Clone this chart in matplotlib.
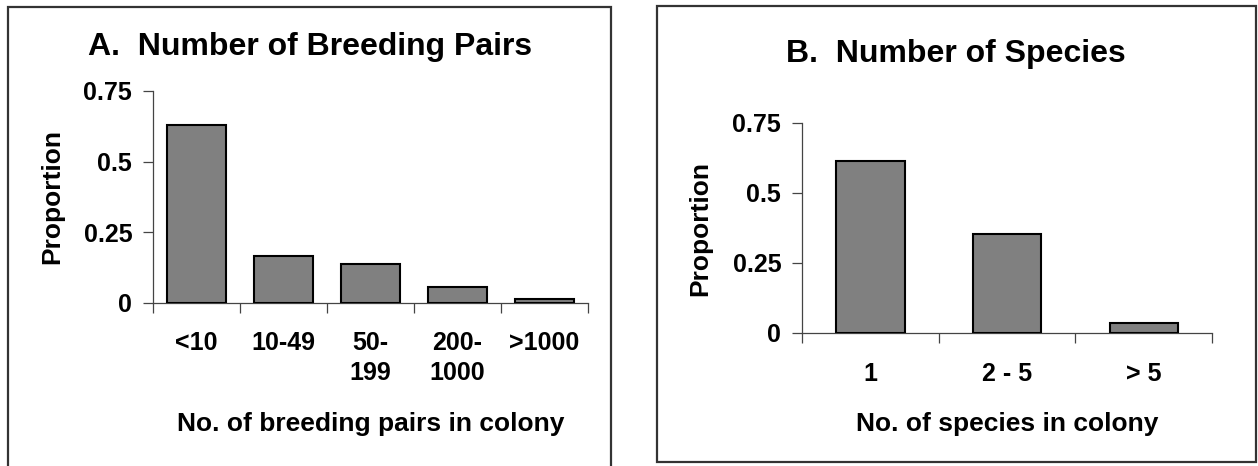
import numpy as np
import matplotlib
matplotlib.use('Agg')
import matplotlib.pyplot as plt
from matplotlib.patches import Rectangle

# ---------------------------------------------------------------------------
# data

pairs_labels = ['<10', '10-49', '50-\n199', '200-\n1000', '>1000']
pairs_prop = [0.63, 0.165, 0.137, 0.055, 0.013]

species_labels = ['1', '2 - 5', '> 5']
species_prop = [0.615, 0.355, 0.035]

yticks = [0, 0.25, 0.5, 0.75]
ytick_labels = ['0', '0.25', '0.5', '0.75']

# ---------------------------------------------------------------------------
# figure, positions in pixels from top-left

W, H = 1258, 466
plt.rcParams['font.family'] = ['Liberation Sans', 'DejaVu Sans']
plt.rcParams['font.weight'] = 'bold'

fig = plt.figure(figsize=(W / 100, H / 100), dpi=100)


def fx(x):
    return x / W


def fy(y):
    return 1 - y / H


def box(left, top, right, bottom):
    r = Rectangle((fx(left), fy(bottom)), fx(right) - fx(left), fy(top) - fy(bottom),
                  transform=fig.transFigure, fill=False, lw=1.6, ec='#333333')
    fig.patches.append(r)


def panel(left, right, top, bottom, labels, values, width, title, title_xy,
          xlabel, xlabel_y, ylabel_x, xpad):
    ax = fig.add_axes([fx(left), fy(bottom), fx(right) - fx(left), fy(top) - fy(bottom)])
    n = len(values)
    pos = np.arange(n) + 0.5
    ax.bar(pos, values, width=width, color='#808080', edgecolor='black', linewidth=1.5,
           zorder=3)
    ax.set_xlim(0, n)
    ax.set_ylim(0, 0.75)

    for s in ['top', 'right']:
        ax.spines[s].set_visible(False)
    for s in ['left', 'bottom']:
        ax.spines[s].set_color('#444444')
        ax.spines[s].set_linewidth(0.9)

    # category boundaries as major ticks, labels on minor ticks at centres
    ax.set_xticks(np.arange(n + 1))
    ax.set_xticklabels([])
    ax.set_xticks(pos, minor=True)
    ax.set_xticklabels(labels, minor=True, fontsize=18, fontweight='bold',
                       linespacing=1.3)
    ax.tick_params(axis='x', which='major', direction='out', length=7,
                   width=0.9, color='#444444')
    ax.tick_params(axis='x', which='minor', length=0, pad=xpad)

    ax.set_yticks(yticks)
    ax.set_yticklabels(ytick_labels, fontsize=18, fontweight='bold')
    ax.tick_params(axis='y', direction='out', length=7, width=0.9, color='#444444',
                   pad=8)

    ax.set_xlabel(xlabel, fontsize=19, fontweight='bold')
    ax.xaxis.set_label_coords(fx((left + right) / 2), fy(xlabel_y), transform=fig.transFigure)
    ax.set_ylabel('Proportion', fontsize=19, fontweight='bold')
    ax.yaxis.set_label_coords(fx(ylabel_x), fy((top + bottom) / 2), transform=fig.transFigure)

    fig.text(fx(title_xy[0]), fy(title_xy[1]), title, fontsize=23, fontweight='bold',
             ha='center', va='baseline')
    return ax


box(8, 7, 611, 490)
box(657, 6, 1256, 462)

panel(153, 588, 91, 303, pairs_labels, pairs_prop, 0.68,
      'A.  Number of Breeding Pairs', (310, 55),
      'No. of breeding pairs in colony', 412, 64, 20.5)

panel(802, 1212, 123, 333, species_labels, species_prop, 0.5,
      'B.  Number of Species', (956, 62),
      'No. of species in colony', 412, 712, 21)

fig.savefig('out.png', dpi=100)
